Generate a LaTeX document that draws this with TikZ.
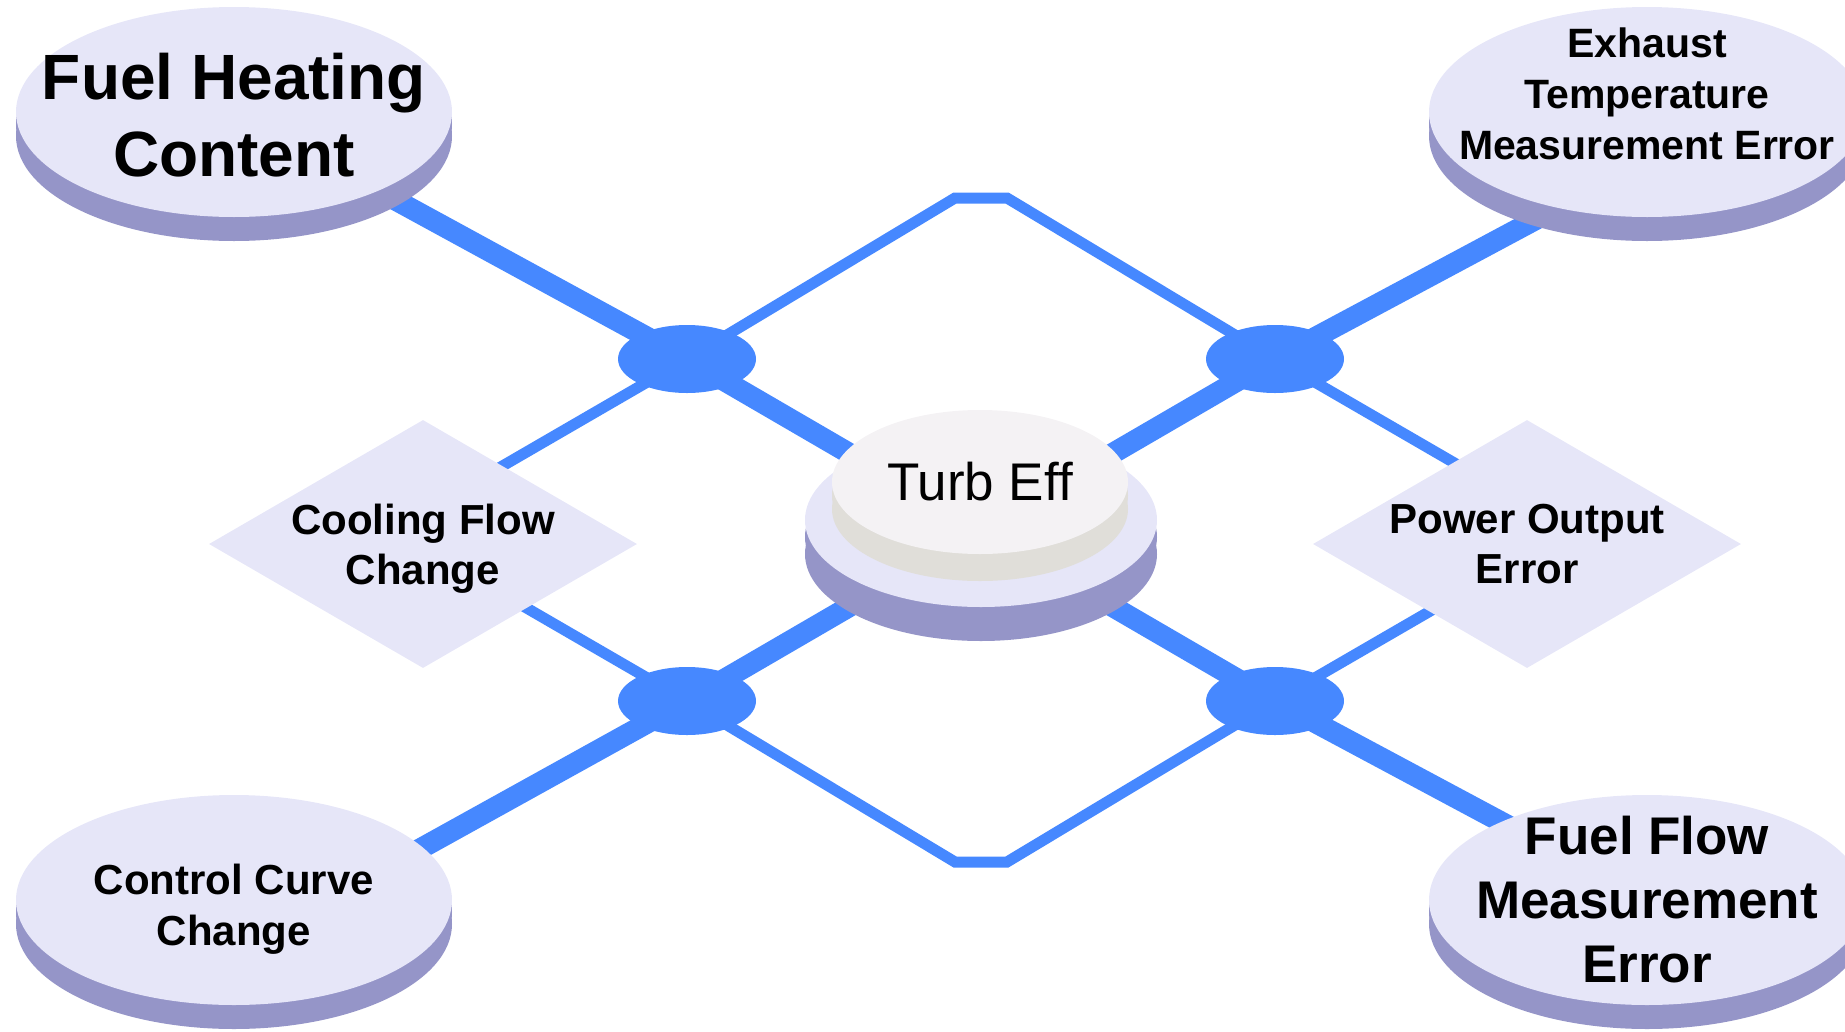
\documentclass[tikz,border=0pt]{standalone}
\usepackage{fontspec}
\setmainfont{Liberation Sans}
\usetikzlibrary{shapes.geometric,backgrounds}
\definecolor{lav}{RGB}{230,230,248}
\definecolor{lavdark}{RGB}{149,149,200}
\definecolor{wireblue}{RGB}{70,136,255}
\definecolor{capface}{RGB}{244,242,244}
\definecolor{capside}{RGB}{224,222,217}
\newcommand{\pxfont}[2]{\fontsize{#1}{#2}\selectfont\bfseries}

\begin{document}
\begin{tikzpicture}[x=1pt,y=-1pt,
  slab/.style n args={5}{ellipse,inner sep=0pt,minimum width=#1,minimum height=#2,fill=#3,
    preaction={fill=#4,transform canvas={yshift=-#5/2}},
    preaction={fill=#4,transform canvas={yshift=-#5}}},
  plate/.style={slab={436pt}{210pt}{lav}{lavdark}{24pt}},
  knot/.style={ellipse,inner sep=0pt,minimum width=138pt,minimum height=68pt,fill=wireblue},
  rhomb/.style={diamond,aspect=1.73,inner sep=0pt,minimum width=428pt,minimum height=248pt,
    fill=lav,align=center,text depth=0pt,font=\pxfont{42}{50}},
  wire/.style={draw=wireblue,line width=11pt},
  trunk/.style={draw=wireblue,line width=21pt},
  lbl/.style={align=center}]
	\useasboundingbox (0,0) rectangle (1845,1031);

	% cause plates
	\node[plate] (fhc) at (234,112) {};
	\node[plate] (etme) at (1647,112) {};
	\node[plate] (ccc) at (234,900) {};
	\node[plate] (ffme) at (1647,900) {};

	% side diamonds
	\node[rhomb] (cfc) at (423,544) {Cooling Flow\\Change};
	\node[rhomb] (poe) at (1527,544) {Power Output\\Error};

	% junctions
	\node[knot] (jtl) at (687,359) {};
	\node[knot] (jtr) at (1275,359) {};
	\node[knot] (jbl) at (687,701) {};
	\node[knot] (jbr) at (1275,701) {};

	% centre disk
	\node[slab={352pt}{174pt}{lav}{lavdark}{34pt}] (base) at (981,520) {};
	\node[slab={296pt}{144pt}{capface}{capside}{27pt},font=\fontsize{53}{60}\selectfont] (turb) at (980,482) {Turb Eff};

	\node[lbl,font=\pxfont{64}{77}] (fhc-txt) at ([yshift=-3pt]fhc.center) {Fuel Heating\\Content};
	\node[lbl,font=\pxfont{41}{51}] (etme-txt) at ([yshift=18pt]etme.center) {Exhaust\\Temperature\\Measurement Error};
	\node[lbl,font=\pxfont{53}{64}] (ffme-txt) at (ffme.center) {Fuel Flow\\Measurement\\Error};
	\node[lbl,font=\pxfont{42}{51}] (ccc-txt) at ([yshift=-9pt]ccc.center) {Control Curve\\Change};

	\coordinate (cfhub) at (392,530);
	\coordinate (pohub) at (1570,530);
	\coordinate (ccc-in) at (234,952);
	\coordinate (etme-in) at (1647,160);

	\begin{scope}[on background layer]
		\draw[wire] (jtl.center) -- (955,198) -- (1007,198) -- (jtr.center);
		\draw[wire] (jbl.center) -- (955,862) -- (1007,862) -- (jbr.center);
		\draw[wire] (jtl.center) -- (cfhub) -- (jbl.center);
		\draw[wire] (jtr.center) -- (pohub) -- (jbr.center);
		\draw[trunk] (fhc.center) -- (jtl.center) -- (jbr.center) -- (ffme.center);
		\draw[trunk] (ccc-in) -- (jbl.center) -- (jtr.center) -- (etme-in);
	\end{scope}
\end{tikzpicture}
\end{document}
